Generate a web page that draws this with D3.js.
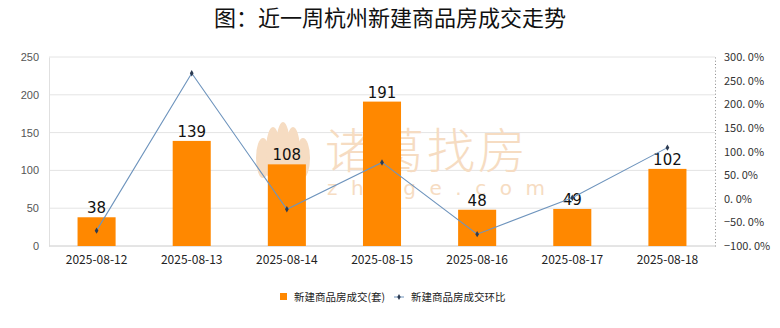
<!DOCTYPE html>
<html>
<head>
<meta charset="utf-8">
<script src="https://cdn.jsdelivr.net/npm/d3@7"></script>
<style>
  html, body { margin: 0; padding: 0; background: #fff; }
  svg { display: block; }
</style>
</head>
<body>
<svg id="chart" width="780" height="328"></svg>
<script>
// Weekly new-home transactions in Hangzhou
const dates = ["2025-08-12", "2025-08-13", "2025-08-14", "2025-08-15", "2025-08-16", "2025-08-17", "2025-08-18"];
const deals = [38, 139, 108, 191, 48, 49, 102];
const dealChange = [-67.5, 265.8, -22.3, 76.9, -74.9, 2.1, 108.2];
const leftTicks = [0, 50, 100, 150, 200, 250];
const rightTicks = [-100, -50, 0, 50, 100, 150, 200, 250, 300];
const titleText = "图：近一周杭州新建商品房成交走势";
const seriesNames = ["新建商品房成交(套)", "新建商品房成交环比"];

const W = 780, H = 328;
const m = { left: 49, right: 65, top: 57, bottom: 82 };
const svg = d3.select("#chart");
const cjk = "'Noto Sans CJK SC', 'Noto Sans', sans-serif";

const x = d3.scaleBand().domain(dates).range([m.left, W - m.right]).paddingInner(0.6).paddingOuter(0.3);
const y = d3.scaleLinear().domain([0, 250]).range([H - m.bottom, m.top]);
const y2 = d3.scaleLinear().domain([-100, 300]).range([H - m.bottom, m.top]);

// title
svg.append("text")
  .attr("x", W / 2).attr("y", 26)
  .attr("text-anchor", "middle")
  .style("font-family", cjk).style("font-size", "22px").style("font-weight", 400)
  .attr("fill", "#111")
  .text(titleText);

// horizontal grid
svg.append("g").selectAll("line").data(leftTicks).join("line")
  .attr("x1", m.left).attr("x2", W - m.right)
  .attr("y1", d => y(d)).attr("y2", d => y(d))
  .attr("stroke", "#e4e4e4").attr("stroke-width", 1);

// left axis
const gL = svg.append("g").attr("transform", `translate(${m.left},0)`)
  .call(d3.axisLeft(y).tickValues(leftTicks).tickSize(0).tickPadding(10));
gL.select(".domain").attr("stroke", "#e0e0e0");
gL.selectAll("text").style("font-family", "'Liberation Sans', Arial, sans-serif").style("font-size", "11px").attr("fill", "#555");

// right axis with dotted minor ticks
const gR = svg.append("g").attr("transform", `translate(${W - m.right},0)`)
  .call(d3.axisRight(y2).tickValues(rightTicks).tickSize(0).tickPadding(9)
    .tickFormat(d => d3.format(".1f")(d).replace(".", ". ") + "%"));
gR.select(".domain").attr("stroke", "#888").attr("stroke-dasharray", "1,2.3");
gR.selectAll("text").style("font-family", "'Noto Sans CJK JP', sans-serif").style("font-size", "11px").attr("fill", "#333");

// baseline
svg.append("line")
  .attr("x1", m.left).attr("x2", W - m.right)
  .attr("y1", y(0)).attr("y2", y(0))
  .attr("stroke", "#d8d8d8");

// bottom axis labels
const gB = svg.append("g").attr("transform", `translate(0,${H - m.bottom})`)
  .call(d3.axisBottom(x).tickSize(0).tickPadding(9));
gB.select(".domain").remove();
gB.selectAll("text").style("font-family", "'Noto Sans CJK JP', sans-serif").style("font-size", "12px").attr("fill", "#222");

// brand watermark behind the bars
const wm = svg.append("g").attr("fill", "#f6dcc2");
const petals = [[-20, 8, 7, 20], [-10, 1, 7, 24], [0, -2, 7, 26], [10, 1, 7, 24], [20, 8, 7, 20]];
wm.selectAll("ellipse").data(petals).join("ellipse")
  .attr("cx", d => 283 + d[0]).attr("cy", d => 150 + d[1])
  .attr("rx", d => d[2]).attr("ry", d => d[3]);
wm.append("path")
  .attr("d", "M258,160 Q262,180 283,180 Q304,180 308,160 Z");
wm.append("text").attr("x", 427).attr("y", 168).attr("text-anchor", "middle")
  .style("font-family", cjk).style("font-size", "48px").style("font-weight", 300).style("letter-spacing", "3px").text("诸葛找房");
wm.append("text").attr("x", 327).attr("y", 195)
  .style("font-family", "'DejaVu Sans', sans-serif").style("font-size", "20px").style("letter-spacing", "13.5px").text("zhuge.com");

// bars
svg.append("g").selectAll("rect").data(deals).join("rect")
  .attr("x", (d, i) => x(dates[i])).attr("width", x.bandwidth())
  .attr("y", d => y(d)).attr("height", d => y(0) - y(d))
  .attr("fill", "#ff8800");

// bar value labels
svg.append("g").selectAll("text").data(deals).join("text")
  .attr("x", (d, i) => x(dates[i]) + x.bandwidth() / 2)
  .attr("y", d => y(d) - 4)
  .attr("text-anchor", "middle")
  .style("font-family", "'DejaVu Sans', sans-serif").style("font-size", "15px")
  .attr("fill", "#111")
  .text(d => d);

// change-rate line
const line = d3.line().x((d, i) => x(dates[i]) + x.bandwidth() / 2).y(d => y2(d));
svg.append("path").datum(dealChange)
  .attr("d", line).attr("fill", "none")
  .attr("stroke", "#6e94bd").attr("stroke-width", 1.1);
svg.append("g").selectAll("path").data(dealChange).join("path")
  .attr("d", d3.symbol(d3.symbolDiamond, 12))
  .attr("transform", (d, i) => `translate(${x(dates[i]) + x.bandwidth() / 2},${y2(d)})`)
  .attr("fill", "#2c3b52");

// legend
const lg = svg.append("g").style("font-family", cjk).style("font-size", "10.5px").attr("fill", "#222");
lg.append("rect").attr("x", 280).attr("y", 293).attr("width", 7).attr("height", 7).attr("fill", "#ff8800");
lg.append("text").attr("x", 294).attr("y", 300.5).text(seriesNames[0]);
lg.append("line").attr("x1", 394).attr("x2", 404).attr("y1", 297).attr("y2", 297).attr("stroke", "#6e94bd");
lg.append("path").attr("d", d3.symbol(d3.symbolDiamond, 10)).attr("transform", "translate(399,297)").attr("fill", "#2c3b52");
lg.append("text").attr("x", 411).attr("y", 300.5).text(seriesNames[1]);
</script>
</body>
</html>
